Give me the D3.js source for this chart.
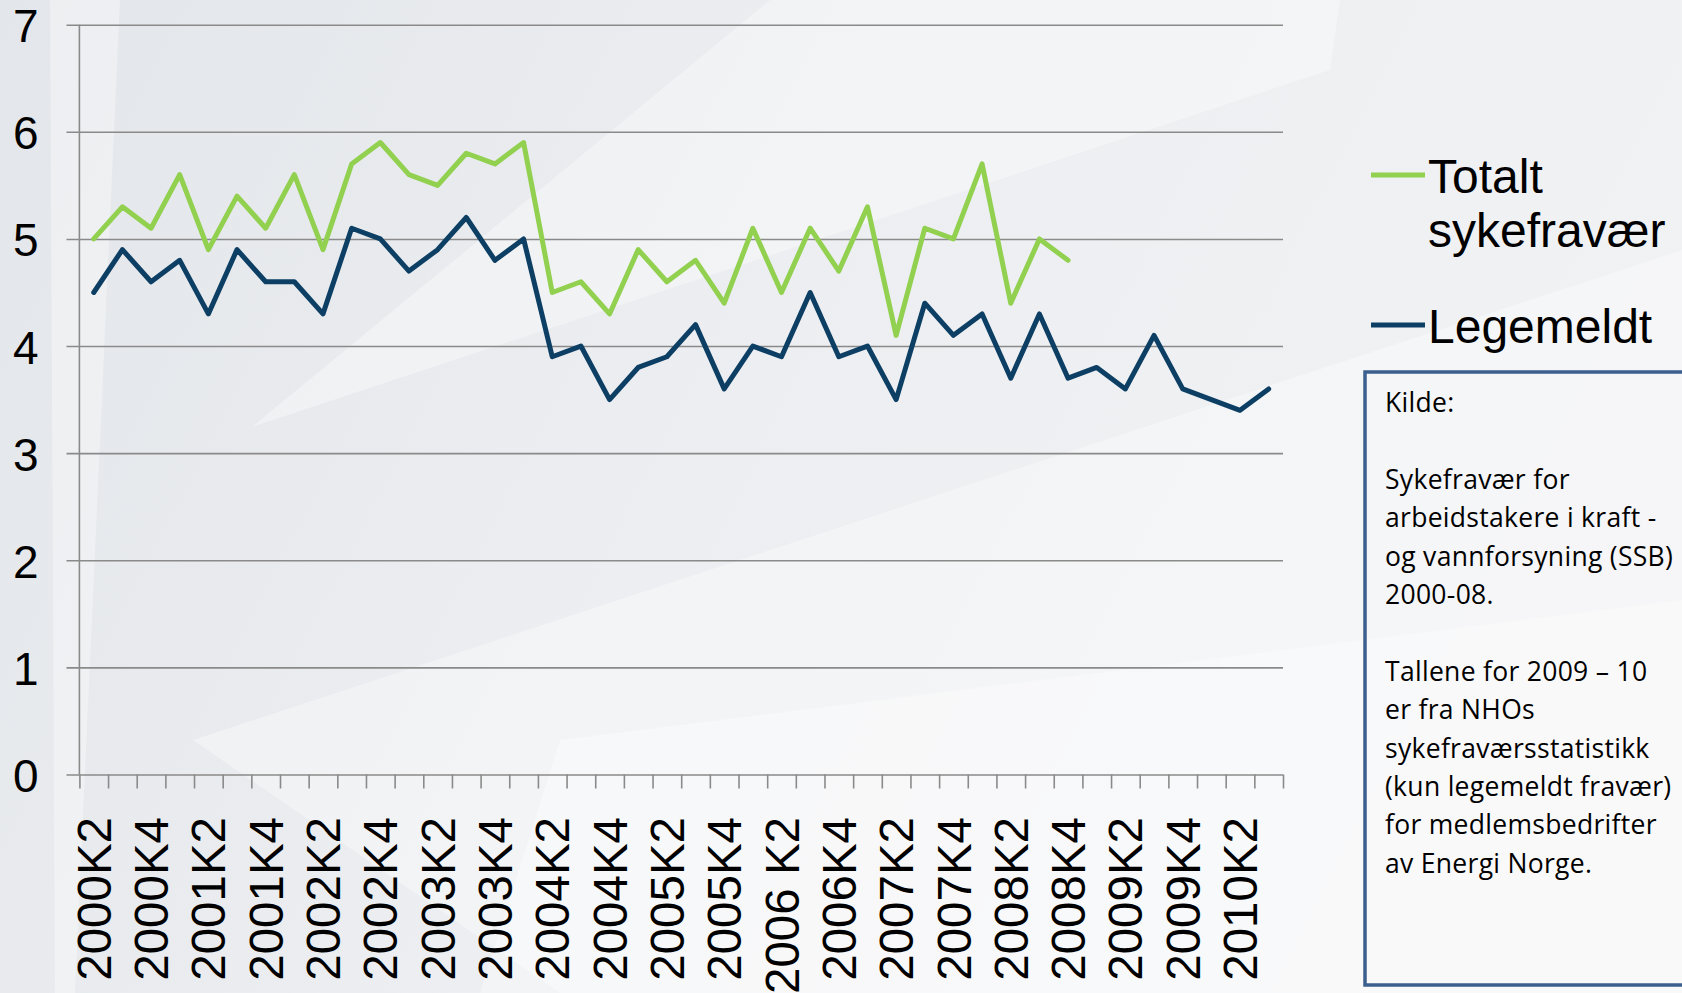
<!DOCTYPE html>
<html>
<head>
<meta charset="utf-8">
<script src="https://cdn.jsdelivr.net/npm/d3@7"></script>
<style>
  html, body { margin: 0; padding: 0; background: #eef0f3; }
  svg { display: block; }
</style>
</head>
<body>
<div id="chart"></div>
<script>
// quarters on the category axis
const categories = [
  "2000K2", "2000K3", "2000K4", "2001K1", "2001K2", "2001K3", "2001K4",
  "2002K1", "2002K2", "2002K3", "2002K4", "2003K1", "2003K2", "2003K3",
  "2003K4", "2004K1", "2004K2", "2004K3", "2004K4", "2005K1", "2005K2",
  "2005K3", "2005K4", "2006K1", "2006 K2", "2006K3", "2006K4", "2007K1",
  "2007K2", "2007K3", "2007K4", "2008K1", "2008K2", "2008K3", "2008K4",
  "2009K1", "2009K2", "2009K3", "2009K4", "2010K1", "2010K2", "2010K3"
];

// only every second quarter is labelled
const tickLabels = [
  "2000K2", "2000K4", "2001K2", "2001K4", "2002K2", "2002K4", "2003K2",
  "2003K4", "2004K2", "2004K4", "2005K2", "2005K4", "2006 K2", "2006K4",
  "2007K2", "2007K4", "2008K2", "2008K4", "2009K2", "2009K4", "2010K2"
];

const yTicks = [0, 1, 2, 3, 4, 5, 6, 7];

// Totalt sykefravær (SSB, 2000-08)
const totalt = [
  5.0, 5.3, 5.1, 5.6, 4.9, 5.4, 5.1, 5.6, 4.9, 5.7, 5.9, 5.6, 5.5, 5.8,
  5.7, 5.9, 4.5, 4.6, 4.3, 4.9, 4.6, 4.8, 4.4, 5.1, 4.5, 5.1, 4.7, 5.3,
  4.1, 5.1, 5.0, 5.7, 4.4, 5.0, 4.8
];

// Legemeldt
const legemeldt = [
  4.5, 4.9, 4.6, 4.8, 4.3, 4.9, 4.6, 4.6, 4.3, 5.1, 5.0, 4.7, 4.9, 5.2,
  4.8, 5.0, 3.9, 4.0, 3.5, 3.8, 3.9, 4.2, 3.6, 4.0, 3.9, 4.5, 3.9, 4.0,
  3.5, 4.4, 4.1, 4.3, 3.7, 4.3, 3.7, 3.8, 3.6, 4.1, 3.6, 3.5, 3.4, 3.6
];

const seriesNames = ["Totalt", "sykefravær", "Legemeldt"];

const noteLines = [
  "Kilde:",
  "",
  "Sykefravær for",
  "arbeidstakere i kraft -",
  "og vannforsyning (SSB)",
  "2000-08.",
  "",
  "Tallene for 2009 – 10",
  "er fra NHOs",
  "sykefraværsstatistikk",
  "(kun legemeldt fravær)",
  "for medlemsbedrifter",
  "av Energi Norge."
];

const W = 1682, H = 993;
const green = "#92d050", navy = "#0d3f64";

const svg = d3.select("#chart").append("svg")
  .attr("width", W)
  .attr("height", H);

// background
const defs = svg.append("defs");
const grad = defs.append("linearGradient")
  .attr("id", "bg")
  .attr("x1", "0").attr("y1", "0")
  .attr("x2", "1").attr("y2", "0.3");
grad.append("stop").attr("offset", "0").attr("stop-color", "#e3e6ea");
grad.append("stop").attr("offset", "0.5").attr("stop-color", "#eceef1");
grad.append("stop").attr("offset", "1").attr("stop-color", "#f1f2f4");

svg.append("rect")
  .attr("width", W).attr("height", H)
  .attr("fill", "url(#bg)");

// faint light streaks in the backdrop
const streaks = [
  [[50, 0], [120, 0], [75, 993], [55, 993]],
  [[252, 427], [770, 0], [1340, 0], [1330, 70]],
  [[193, 740], [1682, 250], [1682, 993], [560, 993]],
  [[560, 740], [1682, 600], [1682, 993], [480, 993]]
];
svg.append("g").selectAll("polygon")
  .data(streaks)
  .join("polygon")
  .attr("points", d => d.map(p => p.join(",")).join(" "))
  .attr("fill", "#ffffff")
  .attr("opacity", 0.35);

// scales
const plotLeft = 79.4, plotRight = 1283;
const x = d3.scaleBand()
  .domain(categories)
  .range([plotLeft, plotRight])
  .padding(0);

const xEdge = d3.scaleLinear()
  .domain([0, categories.length])
  .range([plotLeft, plotRight]);

const y = d3.scaleLinear()
  .domain([0, 7])
  .range([774.5, 24.7]);

// y axis with gridlines
const gridStart = 66.5;
const yAxis = d3.axisLeft(y)
  .tickValues(yTicks)
  .tickSize(-(plotRight - gridStart))
  .tickPadding(28)
  .tickFormat(d3.format("d"));

const yG = svg.append("g")
  .attr("transform", `translate(${gridStart},0)`)
  .call(yAxis);
yG.select(".domain").remove();
yG.selectAll(".tick line")
  .attr("stroke", "#8a8a8a")
  .attr("stroke-width", 1.6);
yG.selectAll(".tick text")
  .attr("dy", "0.37em")
  .attr("fill", "#000")
  .style("font-family", "'Liberation Sans', Arial, sans-serif")
  .style("font-size", "46px");

// vertical axis line
svg.append("line")
  .attr("x1", plotLeft).attr("x2", plotLeft)
  .attr("y1", y(7)).attr("y2", y(0))
  .attr("stroke", "#8a8a8a")
  .attr("stroke-width", 1.6);

// category tick marks (between categories)
const xTickAxis = d3.axisBottom(xEdge)
  .tickValues(d3.range(categories.length + 1))
  .tickSize(14)
  .tickFormat("");
const xtG = svg.append("g")
  .attr("transform", `translate(0,${y(0)})`)
  .call(xTickAxis);
xtG.select(".domain").remove();
xtG.selectAll(".tick line")
  .attr("stroke", "#8a8a8a")
  .attr("stroke-width", 1.6);

// category labels
const xLabelAxis = d3.axisBottom(x)
  .tickValues(tickLabels)
  .tickSize(0)
  .tickPadding(0);
const xlG = svg.append("g")
  .attr("transform", `translate(0,817)`)
  .call(xLabelAxis);
xlG.select(".domain").remove();
xlG.selectAll(".tick text")
  .attr("transform", "rotate(-90)")
  .attr("x", 0)
  .attr("y", 0)
  .attr("dy", "0.36em")
  .attr("text-anchor", "end")
  .attr("fill", "#000")
  .style("font-family", "'Liberation Sans', Arial, sans-serif")
  .style("font-size", "47.5px");

// lines
const line = d3.line()
  .x((d, i) => x(categories[i]) + x.bandwidth() / 2)
  .y(d => y(d));

svg.append("path")
  .datum(legemeldt)
  .attr("fill", "none")
  .attr("stroke", navy)
  .attr("stroke-width", 5)
  .attr("stroke-linejoin", "round")
  .attr("stroke-linecap", "round")
  .attr("d", line);

svg.append("path")
  .datum(totalt)
  .attr("fill", "none")
  .attr("stroke", green)
  .attr("stroke-width", 5)
  .attr("stroke-linejoin", "round")
  .attr("stroke-linecap", "round")
  .attr("d", line);

// legend
const legend = svg.append("g")
  .style("font-family", "'Liberation Sans', Arial, sans-serif")
  .style("font-size", "48px")
  .attr("fill", "#000");

legend.append("line")
  .attr("x1", 1371).attr("x2", 1425)
  .attr("y1", 175).attr("y2", 175)
  .attr("stroke", green).attr("stroke-width", 5);
legend.append("text").attr("x", 1428).attr("y", 193).text(seriesNames[0]);
legend.append("text").attr("x", 1428).attr("y", 247).text(seriesNames[1]);

legend.append("line")
  .attr("x1", 1371).attr("x2", 1425)
  .attr("y1", 325).attr("y2", 325)
  .attr("stroke", navy).attr("stroke-width", 5);
legend.append("text").attr("x", 1428).attr("y", 343).text(seriesNames[2]);

// source note box
svg.append("rect")
  .attr("x", 1365).attr("y", 372)
  .attr("width", 400).attr("height", 613)
  .attr("fill", "none")
  .attr("stroke", "#3c5f8e")
  .attr("stroke-width", 3.5);

svg.append("g")
  .selectAll("text")
  .data(noteLines)
  .join("text")
  .attr("x", 1385)
  .attr("y", (d, i) => 412 + i * 38.4)
  .attr("fill", "#000")
  .style("font-family", "'Open Sans', 'Noto Sans', sans-serif")
  .style("font-size", "26.5px")
  .style("letter-spacing", "0.3px")
  .text(d => d);
</script>
</body>
</html>
